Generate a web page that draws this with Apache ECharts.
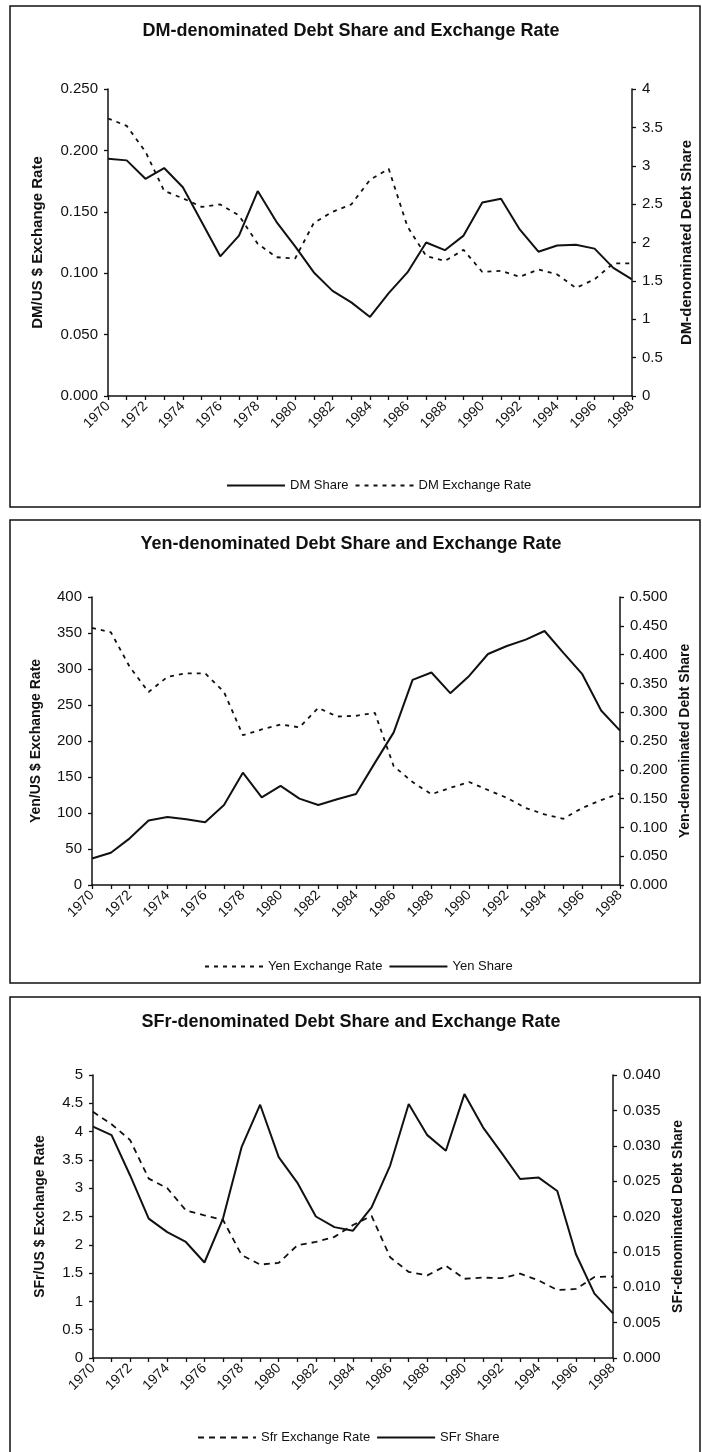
<!DOCTYPE html>
<html>
<head>
<meta charset="utf-8">
<title>Debt Share and Exchange Rate</title>
<script src="https://cdn.jsdelivr.net/npm/echarts@6/dist/echarts.min.js"></script>
<style>
  html, body { margin: 0; padding: 0; background: #fff; }
  #chart { width: 702px; height: 1452px; }
</style>
</head>
<body>
<div id="chart"></div>
<script>
// years on the category axis
var years = []
for (var y = 1970; y <= 1998; y++) years.push(String(y))

// DM panel
var dmShare = [3.09, 3.07, 2.83, 2.97, 2.72, 2.27, 1.82, 2.09, 2.67, 2.27, 1.95, 1.61, 1.37, 1.22, 1.03,
  1.34, 1.61, 2.00, 1.90, 2.09, 2.52, 2.57, 2.17, 1.88, 1.96, 1.97, 1.92, 1.67, 1.52]
var dmRate = [0.226, 0.220, 0.199, 0.167, 0.161, 0.154, 0.156, 0.147, 0.124, 0.113, 0.112, 0.141, 0.150, 0.156, 0.176,
  0.185, 0.138, 0.114, 0.110, 0.119, 0.101, 0.102, 0.097, 0.103, 0.099, 0.088, 0.095, 0.108, 0.108]

// Yen panel
var yenRate = [357, 351, 303, 268, 289, 294, 294, 268, 208, 216, 223, 219, 246, 234, 235,
  239, 165, 143, 126, 135, 143, 132, 121, 107, 98, 92, 107, 118, 127]
var yenShare = [0.046, 0.056, 0.081, 0.112, 0.118, 0.114, 0.109, 0.139, 0.195, 0.152, 0.172, 0.150, 0.139, 0.149, 0.158,
  0.212, 0.265, 0.356, 0.369, 0.333, 0.363, 0.401, 0.415, 0.426, 0.441, 0.403, 0.366, 0.303, 0.268]

// SFr panel
var sfrRate = [4.35, 4.13, 3.85, 3.17, 3.00, 2.61, 2.52, 2.44, 1.82, 1.65, 1.68, 1.99, 2.05, 2.14, 2.35,
  2.51, 1.78, 1.52, 1.46, 1.63, 1.40, 1.42, 1.41, 1.49, 1.37, 1.20, 1.22, 1.43, 1.44]
var sfrShare = [0.0327, 0.0315, 0.0258, 0.0197, 0.0178, 0.0164, 0.0135, 0.0197, 0.0298, 0.0358, 0.0284, 0.0248, 0.0200, 0.0185, 0.0180,
  0.0213, 0.0272, 0.0359, 0.0315, 0.0293, 0.0373, 0.0326, 0.0290, 0.0253, 0.0255, 0.0236, 0.0147, 0.0091, 0.0063]

var FONT = '"Liberation Sans", Arial, Helvetica, sans-serif'
var INK = '#111'

function fix3(v) { return v.toFixed(3) }
function plain(v) { return String(+v.toFixed(3)) }

function xAxis(gridIndex) {
  return {
    type: 'category',
    gridIndex: gridIndex,
    data: years,
    boundaryGap: false,
    axisLine: { onZero: false, lineStyle: { color: INK, width: 1.5 } },
    axisTick: { interval: 0, length: 4, lineStyle: { color: INK, width: 1.3 } },
    axisLabel: { interval: 1, rotate: 45, margin: 8, color: INK, fontFamily: FONT, fontSize: 14 },
    splitLine: { show: false }
  }
}

function yAxis(gridIndex, pos, max, step, fmt, name, gap) {
  return {
    type: 'value',
    gridIndex: gridIndex,
    position: pos,
    min: 0,
    max: max,
    interval: step,
    name: name,
    nameLocation: 'middle',
    nameRotate: 90,
    nameGap: gap,
    nameTextStyle: { color: INK, fontFamily: FONT, fontWeight: 'bold', fontSize: gridIndex === 0 ? 15 : 14 },
    axisLine: { show: true, lineStyle: { color: INK, width: 1.5 } },
    axisTick: { show: true, length: 4, lineStyle: { color: INK, width: 1.3 } },
    axisLabel: { color: INK, fontFamily: FONT, fontSize: 15, margin: pos === 'left' ? 10 : 10, formatter: fmt },
    splitLine: { show: false }
  }
}

function line(name, gridIndex, yIndex, data, dashed) {
  return {
    name: name,
    type: 'line',
    xAxisIndex: gridIndex,
    yAxisIndex: yIndex,
    data: data,
    symbol: 'none',
    animation: false,
    itemStyle: { color: INK },
    lineStyle: { color: INK, width: dashed ? 1.8 : 2, type: dashed || 'solid' }
  }
}

function title(text, top) {
  return {
    text: text,
    left: 'center',
    top: top,
    padding: 0,
    textStyle: { color: INK, fontFamily: FONT, fontWeight: 'bold', fontSize: 18 }
  }
}

function legend(items, left, top) {
  return {
    data: items,
    left: left,
    top: top,
    padding: 0,
    itemWidth: 58,
    itemHeight: 10,
    itemGap: 6,
    selectedMode: false,
    itemStyle: { opacity: 0 },
    textStyle: { color: INK, fontFamily: FONT, fontSize: 13 }
  }
}

function frame(top, height) {
  return {
    type: 'rect',
    shape: { x: 10, y: top, width: 690, height: height },
    style: { fill: 'none', stroke: INK, lineWidth: 1.5 },
    silent: true
  }
}

var chart = echarts.init(document.getElementById('chart'), null, { renderer: 'canvas' })
chart.setOption({
  backgroundColor: '#fff',
  animation: false,
  title: [
    title('DM-denominated Debt Share and Exchange Rate', 22),
    title('Yen-denominated Debt Share and Exchange Rate', 535),
    title('SFr-denominated Debt Share and Exchange Rate', 1013)
  ],
  legend: [
    legend(['DM Share', 'DM Exchange Rate'], 226, 479),
    legend(['Yen Exchange Rate', 'Yen Share'], 204, 960),
    legend(['Sfr Exchange Rate', 'SFr Share'], 197, 1431)
  ],
  grid: [
    { left: 108, right: 68, top: 89, height: 307 },
    { left: 92, right: 82, top: 597, height: 288 },
    { left: 93, right: 89, top: 1075, height: 283 }
  ],
  xAxis: [xAxis(0), xAxis(1), xAxis(2)],
  yAxis: [
    yAxis(0, 'left', 0.25, 0.05, fix3, 'DM/US $ Exchange Rate', 63),
    yAxis(0, 'right', 4, 0.5, plain, 'DM-denominated Debt Share', 47),
    yAxis(1, 'left', 400, 50, plain, 'Yen/US $ Exchange Rate', 49),
    yAxis(1, 'right', 0.5, 0.05, fix3, 'Yen-denominated Debt Share', 56),
    yAxis(2, 'left', 5, 0.5, plain, 'SFr/US $ Exchange Rate', 46),
    yAxis(2, 'right', 0.04, 0.005, fix3, 'SFr-denominated Debt Share', 52)
  ],
  series: [
    line('DM Share', 0, 1, dmShare),
    line('DM Exchange Rate', 0, 0, dmRate, [4, 5]),
    line('Yen Exchange Rate', 1, 2, yenRate, [4, 5]),
    line('Yen Share', 1, 3, yenShare),
    line('Sfr Exchange Rate', 2, 4, sfrRate, [6, 5]),
    line('SFr Share', 2, 5, sfrShare)
  ],
  graphic: [frame(6, 501), frame(520, 463), frame(997, 470)]
})
</script>
</body>
</html>
